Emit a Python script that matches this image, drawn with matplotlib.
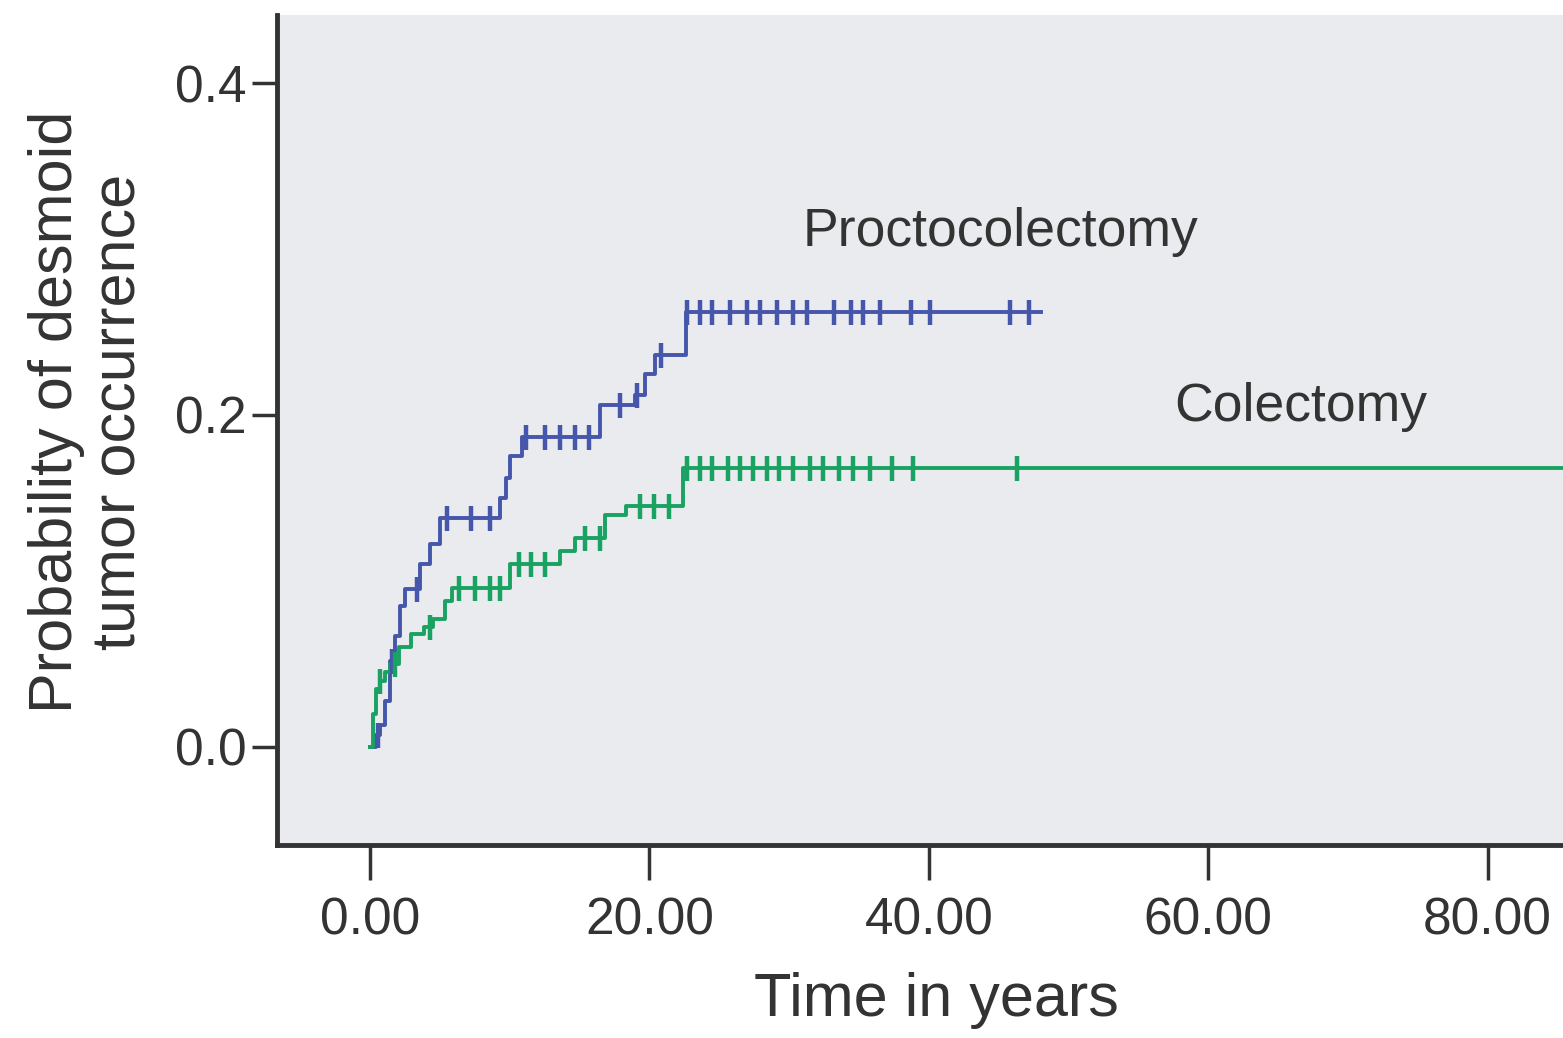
import numpy as np
import matplotlib
matplotlib.use("Agg")
import matplotlib.pyplot as plt

plt.rcParams['font.family'] = ['Liberation Sans', 'DejaVu Sans']

# ---- data ----
proc_times = [0.0, 0.43, 0.72, 1.07, 1.43, 1.79, 2.15, 2.5, 3.6, 4.3, 5.0, 9.3, 9.7, 10.0, 10.9,
              16.5, 19.0, 19.7, 20.4, 22.6, 48.0]
proc_probs = [0.0, 0.007, 0.013, 0.028, 0.052, 0.067, 0.085, 0.095, 0.110, 0.122, 0.138, 0.150, 0.162,
              0.175, 0.187, 0.206, 0.212, 0.225, 0.236, 0.262, 0.262]
proc_censor = [0.6, 1.6, 3.4, 5.5, 7.2, 8.6, 11.2, 12.5, 13.6, 14.7, 15.7, 17.9, 19.1, 20.8,
               22.7, 23.6, 24.5, 25.8, 27.0, 27.9, 29.1, 30.3, 31.3, 33.2, 34.4, 35.3, 36.5,
               38.7, 40.1, 45.8, 47.2]

col_times = [0.0, 0.2, 0.4, 0.7, 1.1, 1.4, 2.1, 2.9, 3.9, 4.5, 5.4, 5.9, 10.0, 13.6, 14.7,
             16.8, 18.3, 22.4, 86.0]
col_probs = [0.0, 0.020, 0.035, 0.040, 0.045, 0.050, 0.060, 0.068, 0.072, 0.077, 0.088, 0.096,
             0.110, 0.118, 0.126, 0.140, 0.145, 0.168, 0.168]
col_censor = [0.7, 1.8, 4.3, 6.4, 7.5, 8.6, 9.3, 10.7, 11.5, 12.5, 15.4, 16.5, 19.3, 20.3, 21.4,
              22.7, 23.6, 24.5, 25.6, 26.5, 27.4, 28.4, 29.3, 30.3, 31.5, 32.4, 33.6, 34.6,
              35.8, 37.4, 38.9, 46.3]

x_ticks = [0, 20, 40, 60, 80]
x_tick_labels = ["0.00", "20.00", "40.00", "60.00", "80.00"]
y_ticks = [0.0, 0.2, 0.4]
y_tick_labels = ["0.0", "0.2", "0.4"]

blue = "#4656ab"
green = "#19a262"
txt = "#333333"

fig = plt.figure(figsize=(15.63, 10.38), dpi=100)
ax = fig.add_axes([0.1772, 0.186, 0.8228, 0.7996])
ax.set_facecolor("#e9ebee")


def step_val(times, probs, t):
    idx = np.searchsorted(np.asarray(times), np.asarray(t), side='right') - 1
    return np.asarray(probs)[idx]


for times, probs, cens, c in [(proc_times, proc_probs, proc_censor, blue),
                              (col_times, col_probs, col_censor, green)]:
    ax.step(times, probs, where='post', color=c, lw=2.8, zorder=3)
    ax.plot(cens, step_val(times, probs, cens), linestyle='none', marker='|',
            ms=18, mew=3.2, color=c, zorder=4)

ax.text(45.1, 0.310, "Proctocolectomy", fontsize=38.5, color=txt, ha='center', va='center')
ax.text(66.6, 0.205, "Colectomy", fontsize=38.5, color=txt, ha='center', va='center')

ax.set_xlim(-6.66, 85.4)
ax.set_ylim(-0.059, 0.441)
ax.set_xticks(x_ticks)
ax.set_xticklabels(x_tick_labels)
ax.set_yticks(y_ticks)
ax.set_yticklabels(y_tick_labels)

for s in ['top', 'right']:
    ax.spines[s].set_visible(False)
for s in ['left', 'bottom']:
    ax.spines[s].set_linewidth(3.5)
    ax.spines[s].set_color(txt)

ax.tick_params(axis='x', length=25, width=2.5, color=txt, labelsize=37, labelcolor=txt, pad=12)
ax.tick_params(axis='y', length=18, width=2.5, color=txt, labelsize=37, labelcolor=txt, pad=4)

ax.set_xlabel("Time in years", fontsize=44, color=txt, va='center')
ax.xaxis.set_label_coords(0.513, -0.187)
ax.set_ylabel("Probability of desmoid\ntumor occurrence", fontsize=44, color=txt,
              linespacing=1.15, va='center')
ax.yaxis.set_label_coords(-0.147, 0.522)

fig.savefig("out.png", dpi=100, facecolor="white")
